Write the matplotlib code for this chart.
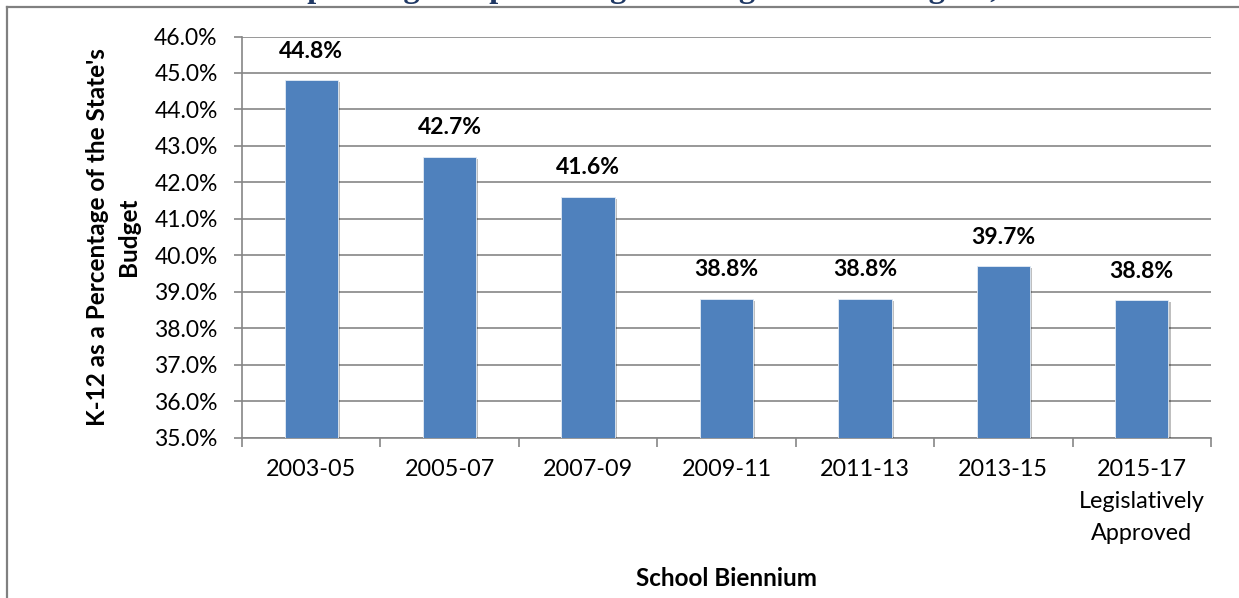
import matplotlib
matplotlib.use("Agg")
import matplotlib.pyplot as plt
from matplotlib.lines import Line2D
import matplotlib.patheffects as pe
import numpy as np

# ---- data ----
categories = ["2003-05", "2005-07", "2007-09", "2009-11", "2011-13", "2013-15",
              "2015-17\nLegislatively\nApproved"]
values = [44.8, 42.7, 41.6, 38.8, 38.8, 39.7, 38.77]
value_labels = ["44.8%", "42.7%", "41.6%", "38.8%", "38.8%", "39.7%", "38.8%"]
yticks = [35.0, 36.0, 37.0, 38.0, 39.0, 40.0, 41.0, 42.0, 43.0, 44.0, 45.0, 46.0]
ylabel = "K-12 as a Percentage of the State's\nBudget"
xlabel = "School Biennium"
title = "K-12 Spending as a percentage of budget in Washington, 2003-2017"

plt.rcParams['font.family'] = ['Lato', 'DejaVu Sans']

W, H = 1239, 598
fig = plt.figure(figsize=(W / 100, H / 100), dpi=100)
fig.patch.set_facecolor('white')

ax_left, ax_right, ax_top, ax_bot = 242, 1211, 36.5, 437.7
ax = fig.add_axes([ax_left / W, 1 - ax_bot / H, (ax_right - ax_left) / W, (ax_bot - ax_top) / H])

grid_c = '#868686'
x = np.arange(len(categories))
bars = ax.bar(x, values, width=0.385, color='#4F81BD', edgecolor='#E4ECF5',
              linewidth=0.6, zorder=3)
for b in bars:
    b.set_path_effects([pe.SimplePatchShadow(offset=(1.5, -1.5), shadow_rgbFace='black', alpha=0.25),
                        pe.Normal()])

ax.set_ylim(35, 46)
ax.set_xlim(-0.5, len(categories) - 0.5)

ax.set_axisbelow(True)
ax.yaxis.grid(True, color=grid_c, linewidth=1.2)
for s in ['top', 'right']:
    ax.spines[s].set_visible(False)
for s in ['left', 'bottom']:
    ax.spines[s].set_color(grid_c)
    ax.spines[s].set_linewidth(1.2)

ax.set_yticks(yticks)
ax.set_yticklabels([f"{v:.1f}%" for v in yticks])
ax.tick_params(axis='y', length=5.5, width=1.2, color=grid_c, labelsize=16.5, pad=12)

ax.set_xticks(np.arange(-0.5, len(categories), 1.0))
ax.set_xticklabels([])
ax.tick_params(axis='x', which='major', length=6.5, width=1.2, color=grid_c)
ax.set_xticks(x, minor=True)
ax.set_xticklabels(categories, minor=True, fontsize=16.8, linespacing=1.65)
ax.tick_params(axis='x', which='minor', length=0, pad=15)

for xi, v, lab in zip(x, values, value_labels):
    ax.annotate(lab, (xi, v), xytext=(0, 21), textcoords='offset points',
                ha='center', va='center', fontsize=16.5, fontweight='bold', color='black')

fig.text(113 / W, 1 - 237 / H, ylabel, rotation=90, ha='center', va='center',
         fontsize=17.5, fontweight='bold', linespacing=1.45, multialignment='center')
fig.text(726 / W, 1 - 578 / H, xlabel, ha='center', va='center', fontsize=17.5, fontweight='bold')

# border of the enclosing frame
fig.add_artist(Line2D([7 / W, 7 / W], [0, 1 - 7 / H], transform=fig.transFigure,
                      color='#808080', linewidth=1.6))
fig.add_artist(Line2D([7 / W, 1], [1 - 7 / H, 1 - 7 / H], transform=fig.transFigure,
                      color='#808080', linewidth=1.6))

# cut-off title above the frame (only descenders remain visible)
fig.text(212 / W, 1 + 3 / H, title, ha='left', va='baseline', fontsize=23.5,
         fontweight='bold', color='#1F3864', family=['Liberation Serif', 'DejaVu Serif'])

fig.savefig('out.png', dpi=100)
